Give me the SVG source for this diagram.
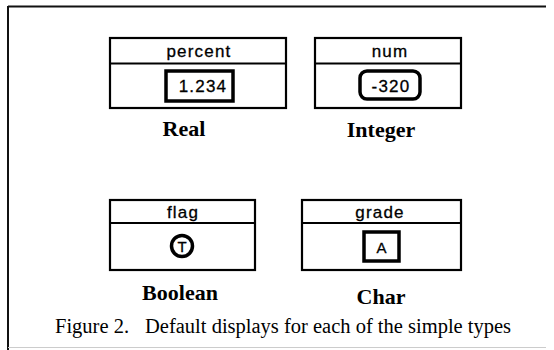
<svg xmlns="http://www.w3.org/2000/svg" width="554" height="350" viewBox="0 0 554 350">
<style>
.box{fill:#fff;stroke:#000;stroke-width:2.2}
.val{fill:#fff;stroke:#000;stroke-width:3.5}
.mono{font-family:"Liberation Sans",Arial,sans-serif;font-size:17px;letter-spacing:1.2px;text-anchor:middle;fill:#000;stroke:#000;stroke-width:0.3}
.type{font-family:"Liberation Serif","Times New Roman",serif;font-size:22px;font-weight:bold;text-anchor:middle;fill:#000}
.cap{font-family:"Liberation Serif","Times New Roman",serif;font-size:20.5px;fill:#000}
</style>
<rect x="0" y="0" width="554" height="350" fill="#fff"/>
<g id="frame">
<line x1="8" y1="6.5" x2="546" y2="6.5" stroke="#111" stroke-width="2"/>
<line x1="8" y1="6" x2="8" y2="350" stroke="#111" stroke-width="2"/>
<line x1="8" y1="347.5" x2="546" y2="347.5" stroke="#ccc" stroke-width="1"/>
</g>
<g id="real">
<rect class="box" x="110" y="38" width="176" height="70"/>
<line class="box" x1="110" y1="63.5" x2="286" y2="63.5"/>
<text class="mono" x="199" y="57">percent</text>
<rect class="val" x="166" y="71" width="67" height="30"/>
<text class="mono" x="203" y="92">1.234</text>
<text class="type" x="184" y="136">Real</text>
</g>
<g id="integer">
<rect class="box" x="315" y="38" width="146" height="70"/>
<line class="box" x1="315" y1="63.5" x2="461" y2="63.5"/>
<text class="mono" x="390" y="57">num</text>
<rect class="val" x="360" y="71" width="60" height="28" rx="7"/>
<text class="mono" x="391" y="92">-320</text>
<text class="type" x="381" y="137">Integer</text>
</g>
<g id="boolean">
<rect class="box" x="110" y="200" width="145" height="70"/>
<line class="box" x1="110" y1="223" x2="255" y2="223"/>
<text class="mono" x="183" y="218">flag</text>
<circle class="val" cx="182" cy="246" r="10.5"/>
<text class="mono" x="182" y="251.5" style="font-size:15px;letter-spacing:0">T</text>
<text class="type" x="180" y="300">Boolean</text>
</g>
<g id="char">
<rect class="box" x="302" y="200" width="159" height="70"/>
<line class="box" x1="302" y1="223" x2="461" y2="223"/>
<text class="mono" x="380" y="218">grade</text>
<rect class="val" x="364" y="232" width="35" height="29"/>
<text class="mono" x="381.5" y="253" style="font-size:15px;letter-spacing:0">A</text>
<text class="type" x="381" y="304">Char</text>
</g>
<g id="connectors"/>
<text class="cap" x="55" y="333">Figure 2.<tspan dx="16">Default displays for each of the simple types</tspan></text>
</svg>
